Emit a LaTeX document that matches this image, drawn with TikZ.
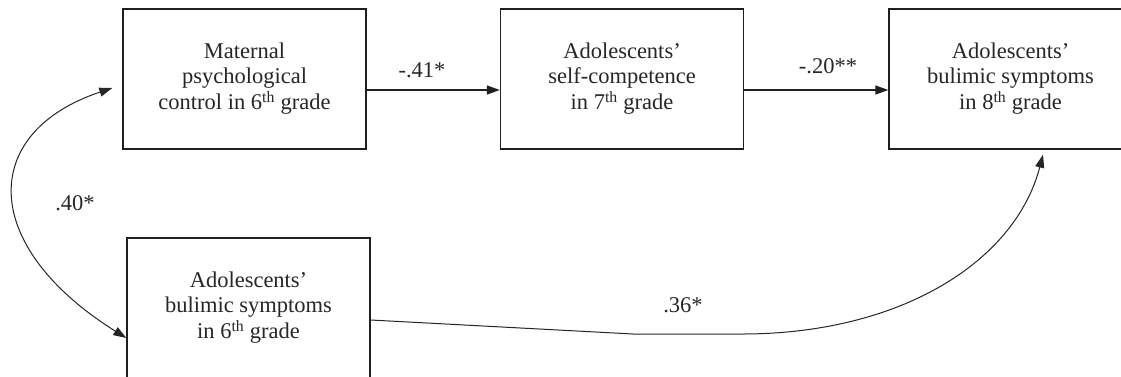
\documentclass[tikz,border=0pt]{standalone}
\usepackage{fontspec}
\setmainfont{Liberation Serif}
\usetikzlibrary{arrows.meta}
\newcommand{\boxtext}[2]{\raisebox{#1}{\begin{tabular}{@{}c@{}}#2\end{tabular}}}
\tikzset{
  box/.style={draw=black!88, line width=1.4pt, rectangle, minimum width=243pt, minimum height=140pt, inner sep=0pt, font=\fontsize{22.5}{25.5}\selectfont, text=black!85},
  lbl/.style={font=\fontsize{22.5}{25.5}\selectfont, text=black!85, inner sep=0pt},
  arr/.style={draw=black!88, line width=1.4pt, -{Triangle[length=13pt,width=9pt]}},
  curvearr/.style={draw=black!85, line width=1pt, -{Triangle[length=13pt,width=9pt]}},
  botharr/.style={draw=black!85, line width=1pt, {Triangle[length=13pt,width=9pt]}-{Triangle[length=13pt,width=9pt]}},
}
\begin{document}
\begin{tikzpicture}[x=1pt,y=-1pt]
\useasboundingbox (0,0) rectangle (1121,376);
\clip (0,0) rectangle (1121,376);
\fill[white] (0,0) rectangle (1121,376);
\node[box] (b1) at (244.5,79) {\boxtext{-4pt}{Maternal\\psychological\\control in 6\textsuperscript{th} grade}};
\node[box] (b2) at (622,79) {\boxtext{-4pt}{Adolescents'\\self-competence\\in 7\textsuperscript{th} grade}};
\node[box] (b3) at (1010.5,79) {\boxtext{-4pt}{Adolescents'\\bulimic symptoms\\in 8\textsuperscript{th} grade}};
\node[box] (b4) at (248.5,308) {\boxtext{5pt}{Adolescents'\\bulimic symptoms\\in 6\textsuperscript{th} grade}};
\draw[arr] ([yshift=-11pt]b1.east) -- ([yshift=-11pt]b2.west);
\draw[arr] ([yshift=-11pt]b2.east) -- ([yshift=-11pt]b3.west);
\node[lbl] (l1) at (422,70) {-.41*};
\node[lbl] (l2) at (828,66) {-.20**};
\coordinate (t1) at ([xshift=-10pt,yshift=-9pt]b1.west);
\coordinate (s4) at ([yshift=-12pt]b4.east);
\coordinate (t3) at ([xshift=32.5pt,yshift=-5pt]b3.south);
\draw[botharr] (t1) .. controls (-20,132) and (-22,245) .. ([yshift=-30pt]b4.west);
\node[lbl] (l3) at (75,203) {.40*};
\draw[curvearr] (s4) -- (633,334) -- (742,334) .. controls (900,334) and (1015,262) .. (t3);
\node[lbl] (l4) at (683,305) {.36*};
\end{tikzpicture}
\end{document}
